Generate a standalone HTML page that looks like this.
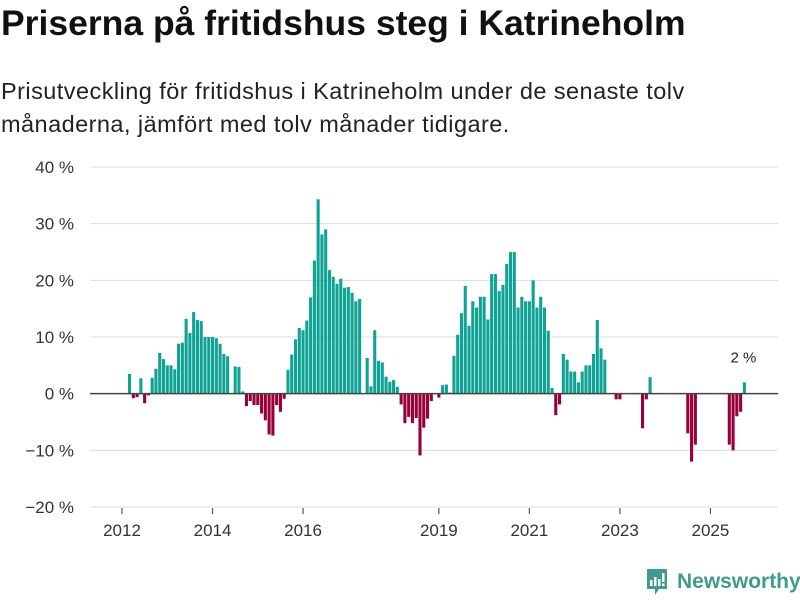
<!DOCTYPE html>
<html><head><meta charset="utf-8">
<style>
body{margin:0;background:#fff;width:800px;height:600px;overflow:hidden;font-family:"Liberation Sans","DejaVu Sans",sans-serif;}
#title{position:absolute;left:1px;top:3px;font-size:35.5px;font-weight:bold;color:#111;letter-spacing:0px;white-space:nowrap;}
#sub{position:absolute;left:1px;top:75px;font-size:23.5px;letter-spacing:0.45px;line-height:33px;color:#222;white-space:nowrap;}
#logo{position:absolute;left:645px;top:567px;display:flex;align-items:center;gap:8px;color:#3f9b8e;font-size:21px;font-weight:bold;}
</style></head>
<body>
<div id="title">Priserna på fritidshus steg i Katrineholm</div>
<div id="sub">Prisutveckling för fritidshus i Katrineholm under de senaste tolv<br>månaderna, jämfört med tolv månader tidigare.</div>
<svg id="chart" width="800" height="600" style="position:absolute;left:0;top:0"></svg>
<div id="logo">
<svg width="24" height="30" viewBox="0 0 24 30"><path d="M2 2h20v20H14l-4 6v-6H2z" fill="#3f9b8e"/><rect x="5" y="13" width="2.5" height="6" fill="#fff"/><rect x="9" y="10" width="2.5" height="9" fill="#fff"/><rect x="13" y="12" width="2.5" height="7" fill="#fff"/><rect x="17" y="6" width="2.5" height="9" fill="#fff"/><rect x="17" y="16.5" width="2.5" height="2.5" fill="#fff"/></svg>
<span>Newsworthy</span></div>
<script>
const startYear = 2012, startMonth = 3;
const values = [3.5,-0.8,-0.6,2.7,-1.7,-0.3,2.8,4.4,7.2,6.1,5.0,5.0,4.3,8.8,9.0,13.2,10.7,14.4,13.0,12.8,
10.0,10.0,10.0,9.8,8.8,7.0,6.6,null,4.8,4.7,0.4,-2.2,-1.3,-2.0,-2.0,-3.5,-4.7,-7.2,-7.4,-2.0,
-3.2,-0.9,4.2,6.9,9.6,11.6,11.2,12.9,17,23.5,34.3,28.1,29,21.8,20.6,19.4,20.3,18.7,18.8,17.8,
16.3,16.7,null,6.3,1.3,11.2,5.8,5.5,3.0,2.1,2.4,1.2,-1.9,-5.2,-4.1,-5.2,-4.3,-10.9,-6,-4.4,
-1.3,null,-0.7,1.5,1.6,0.2,6.7,10.4,14.2,19,12,16.3,15.2,17.1,17.1,13.1,21.1,21.1,18.1,19.2,
22.9,25,25,15.2,17.1,16.3,16.3,20,15.2,17.1,15.2,11.1,1.0,-3.8,-1.9,7,6,3.9,3.9,2.0,
3.9,5,5,7,13,8,6,null,null,-1,-1,null,null,null,null,null,-6.1,-1,2.9,null,
null,null,null,null,null,null,null,null,-7,-12,-9,null,null,null,null,null,null,null,null,
-9,-10,-4,-3.2,2];
const yTicks = [40,30,20,10,0,-10,-20];
const yTickLabels = ["40 %","30 %","20 %","10 %","0 %","−10 %","−20 %"];
const xTickYears = [2012,2014,2016,2019,2021,2023,2025];
const lastLabel = "2 %";

const NS="http://www.w3.org/2000/svg";
const svg=document.getElementById('chart');
const X0=128, STEP=3.772, BW=3.1, L=90, R=778;
function xIdx(i){return X0+i*STEP;}
function yv(v){return 167+(40-v)*(340/60);}
function monthIndex(y,m){return (y-startYear)*12+(m-startMonth);}
function mk(t,a){const e=document.createElementNS(NS,t);for(const k in a)e.setAttribute(k,a[k]);svg.appendChild(e);return e;}

yTicks.forEach((t,i)=>{
  if(t!==0){const g=mk('line',{x1:L,x2:R,y1:yv(t),y2:yv(t),stroke:'#dcdcdc','stroke-width':1});
  
  }
  const tx=mk('text',{x:74,y:yv(t)+6,'text-anchor':'end','font-size':17,fill:'#333','font-family':'Liberation Sans, DejaVu Sans, sans-serif'});
  tx.textContent=yTickLabels[i];
  
  
});
values.forEach((v,i)=>{
  if(v===null)return;
  const y0=yv(0),y1=yv(v);
  const r=mk('rect',{x:xIdx(i),y:Math.min(y0,y1),width:BW,height:Math.abs(y1-y0),fill:v>=0?'#0ea394':'#990039'});
  
  
});
const z=mk('line',{x1:L,x2:R,y1:yv(0),y2:yv(0),stroke:'#444','stroke-width':1.5});


xTickYears.forEach(yr=>{
  const x=xIdx(monthIndex(yr,1))+BW/2;
  const tk=mk('line',{x1:x,x2:x,y1:508,y2:514,stroke:'#555','stroke-width':1.2});
  
  
  const tx=mk('text',{x:x,y:536,'text-anchor':'middle','font-size':17,fill:'#333','font-family':'Liberation Sans, DejaVu Sans, sans-serif'});
  tx.textContent=yr;
  
  
});
const li=values.length-1;
const lab=mk('text',{x:xIdx(li)+BW/2-1,y:yv(values[li])-20,'text-anchor':'middle','font-size':15,fill:'#222','font-family':'Liberation Sans, DejaVu Sans, sans-serif'});
lab.textContent=lastLabel;


</script>
</body></html>
